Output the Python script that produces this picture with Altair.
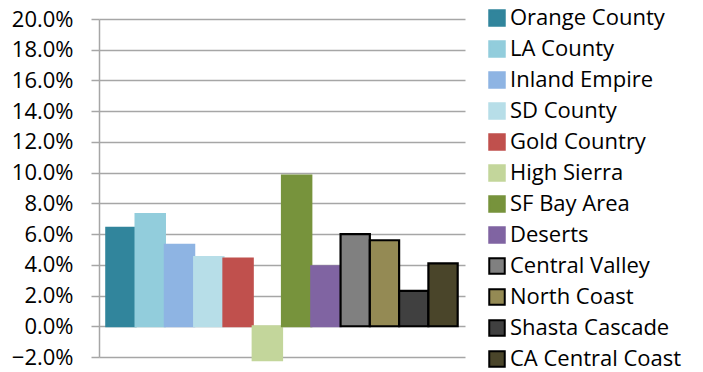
import altair as alt
import pandas as pd

regions = [
    "Orange County", "LA County", "Inland Empire", "SD County", "Gold Country",
    "High Sierra", "SF Bay Area", "Deserts", "Central Valley", "North Coast",
    "Shasta Cascade", "CA Central Coast",
]
changes = [0.064, 0.073, 0.053, 0.045, 0.044, -0.022, 0.098, 0.039,
           0.060, 0.056, 0.023, 0.041]
fills = ["#31859C", "#92CDDC", "#8EB4E3", "#B7DEE8", "#C0504D", "#C3D69B",
         "#77933C", "#8064A2", "#808080", "#948A54", "#404040", "#4A452A"]
outlines = fills[:8] + ["#000000"] * 4

df = pd.DataFrame({"region": regions, "change": changes})

font = "Open Sans"

chart = alt.Chart(df).mark_bar(strokeWidth=2.2).encode(
    x=alt.X("region:N", sort=regions, axis=None,
            scale=alt.Scale(paddingInner=0, paddingOuter=0.25)),
    y=alt.Y("change:Q",
            scale=alt.Scale(domain=[-0.02, 0.20], nice=False),
            axis=alt.Axis(format=".1%", values=[i / 100 for i in range(-2, 21, 2)],
                          title=None, grid=True, gridColor="#A6A6A6", gridWidth=1.5,
                          domainColor="#A6A6A6", domainWidth=1.5,
                          tickColor="#A6A6A6", tickWidth=1.5, tickSize=8,
                          labelFontSize=22, labelFont=font, labelColor="#000000",
                          labelPadding=18)),
    fill=alt.Fill("region:N", sort=regions,
                  scale=alt.Scale(domain=regions, range=fills),
                  legend=alt.Legend(title=None)),
    stroke=alt.Stroke("region:N", sort=regions,
                      scale=alt.Scale(domain=regions, range=outlines),
                      legend=alt.Legend(title=None)),
).properties(
    width=366, height=338,
    autosize=alt.AutoSizeParams(type="none"),
    padding={"left": 99, "top": 19, "right": 238, "bottom": 15},
).configure_view(stroke=None).configure_legend(
    orient="none", legendX=387, legendY=-12,
    symbolType="square", symbolSize=240, symbolStrokeWidth=2,
    labelFontSize=22, labelFont=font, labelColor="#000000",
    rowPadding=7, labelOffset=2, labelLimit=300,
)

chart.save("out.html", embed_options={"renderer": "svg", "actions": False})
